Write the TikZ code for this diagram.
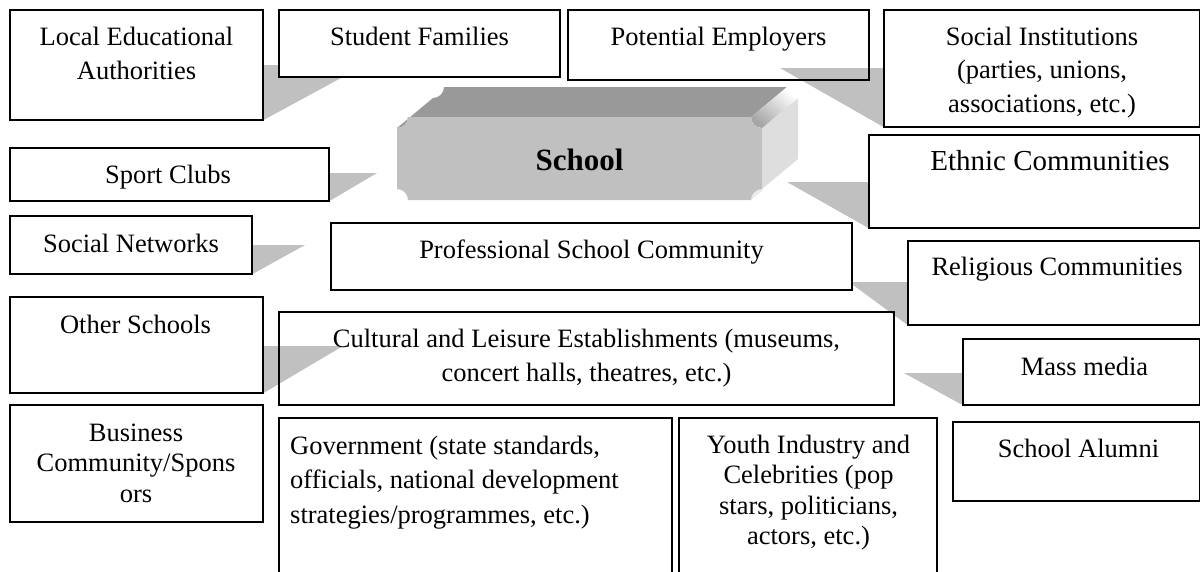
\documentclass[tikz,border=0pt]{standalone}
\usepackage{fontspec}
\setmainfont{Liberation Serif}
\definecolor{wedgegray}{HTML}{C0C0C0}
\definecolor{facegray}{HTML}{C0C0C0}
\definecolor{topgray}{HTML}{999999}
\definecolor{sidegray}{HTML}{DEDEDE}
% multi-line label whose baseline is that of its first line
\newcommand{\txtblock}[2]{\begin{tabular}[t]{@{}#1@{}}#2\end{tabular}}
\begin{document}
\begin{tikzpicture}[x=1pt,y=-1pt,
  box/.style={draw=black, line width=1.5pt, fill=white, rectangle, inner sep=0pt},
  openbox/.style={draw=black, line width=1.5pt, rectangle, inner sep=0pt},
  wedge/.style={fill=wedgegray},
  lbl/.style={inner sep=0pt, anchor=base, font=\fontsize{26.5}{34}\selectfont},
  lbltight/.style={inner sep=0pt, anchor=base, font=\fontsize{26.5}{30.5}\selectfont},
  schoolfont/.style={inner sep=0pt, anchor=base, font=\bfseries\fontsize{31}{37}\selectfont}]
\useasboundingbox (0,0) rectangle (1201,571);
\fill[white] (0,0) rectangle (1201,571);
\clip (0,0) rectangle (1201,571);

% ---------- boxes (shapes only) ----------
\path
  (136.5,65)    node[minimum width=253pt,  minimum height=110pt] (loc)   {}
  (419.5,43.5)  node[minimum width=281pt,  minimum height=67pt]  (fam)   {}
  (718.5,45)    node[minimum width=301pt,  minimum height=70pt]  (emp)   {}
  (1041.75,68.5) node[minimum width=315.5pt, minimum height=117pt] (inst) {}
  (1034.25,181.5) node[minimum width=330.5pt, minimum height=93pt] (eth) {}
  (169.5,174.5) node[minimum width=319pt,  minimum height=53pt]  (sport) {}
  (131,245)     node[minimum width=242pt,  minimum height=58pt]  (net)   {}
  (591.5,256.5) node[minimum width=521pt,  minimum height=67pt]  (prof)  {}
  (1053.75,283) node[minimum width=291.5pt, minimum height=84pt] (rel)   {}
  (136.5,345)   node[minimum width=253pt,  minimum height=96pt]  (other) {}
  (586.5,358.5) node[minimum width=615pt,  minimum height=93pt]  (cult)  {}
  (1081.25,372) node[minimum width=236.5pt, minimum height=66pt] (mass)  {}
  (136.5,463.5) node[minimum width=253pt,  minimum height=117pt] (bus)   {}
  (475.5,509)   node[minimum width=393pt,  minimum height=182pt] (gov)   {}
  (808,509)     node[minimum width=258pt,  minimum height=182pt] (youth) {}
  (1076.25,461.5) node[minimum width=246.5pt, minimum height=79pt] (alum) {};

% ---------- grey pointers toward the school ----------
\coordinate (tipLoc)   at (365,65);
\coordinate (tipInst)  at (780,68);
\coordinate (tipEth)   at (787,182);
\coordinate (tipSport) at (377,173);
\coordinate (tipNet)   at (305,245);
\coordinate (tipOther) at (343,346);
\coordinate (tipRel)   at (849,282);
\coordinate (tipMass)  at (904,373);

\fill[wedge] (tipLoc)   -- (loc.south east)   -- ([xshift=-30pt]loc.east |- tipLoc) -- cycle;
\fill[wedge] (tipSport) -- (sport.south east) -- ([xshift=-30pt]sport.east |- tipSport) -- cycle;
\fill[wedge] (tipNet)   -- (net.south east)   -- ([xshift=-30pt]net.east |- tipNet) -- cycle;
\fill[wedge] (tipOther) -- (other.south east) -- ([xshift=-30pt]other.east |- tipOther) -- cycle;
\fill[wedge] (tipInst)  -- (inst.south west)  -- ([xshift=30pt]inst.west |- tipInst) -- cycle;
\fill[wedge] (tipEth)   -- (eth.south west)   -- ([xshift=30pt]eth.west |- tipEth) -- cycle;
\fill[wedge] (tipRel)   -- (rel.south west)   -- ([xshift=30pt]rel.west |- tipRel) -- cycle;
\fill[wedge] (tipMass)  -- (mass.south west)  -- ([xshift=30pt]mass.west |- tipMass) -- cycle;

% ---------- draw the boxes ----------
\foreach \b in {loc,fam,inst,eth,sport,net,prof,rel,other,mass,bus,gov,youth,alum}
  \draw[box] (\b.south west) rectangle (\b.north east);
\foreach \b in {emp,cult}
  \draw[openbox] (\b.south west) rectangle (\b.north east);

% ---------- the School block ----------
% top face with the upper-left notch
\fill[topgray] (397,128) -- (433,98) .. controls (439.07,98) and (444,93.07) .. (444,87)
  -- (787,87) -- (751,117) -- (408,117) .. controls (408,123.07) and (403.07,128) .. (397,128) -- cycle;
% right face
\fill[sidegray] (762,128) -- (798,98) -- (798,159) -- (762,189) -- cycle;
% upper-right rounded notch
\shade[top color=white, bottom color=black!35, shading angle=-40]
  (751,117) .. controls (751,123.07) and (755.93,128) .. (762,128) -- (798,98)
  .. controls (791.93,98) and (787,93.07) .. (787,87) -- cycle;
% small highlight in the lower-right notch
\fill[black!8] (762,189) .. controls (755.93,189) and (751,193.93) .. (751,200) -- (756,196) -- (762,191) -- cycle;
% front face
\fill[facegray] (408,117) -- (751,117) .. controls (751,123.07) and (755.93,128) .. (762,128)
  -- (762,189) .. controls (755.93,189) and (751,193.93) .. (751,200)
  -- (408,200) .. controls (408,193.93) and (403.07,189) .. (397,189)
  -- (397,128) .. controls (403.07,128) and (408,123.07) .. (408,117) -- cycle;
\node[schoolfont] (school) at (579.5,170) {School};

% ---------- labels ----------
\node[lbl] (locT)   at (136.5,45)  {\txtblock{c}{Local Educational\\Authorities}};
\node[lbl] (famT)   at (419.5,45)  {Student Families};
\node[lbl] (empT)   at (718.5,45)  {Potential Employers};
\node[inner sep=0pt, anchor=base, font=\fontsize{26.5}{33.5}\selectfont] (instT) at (1042,45)
  {\txtblock{c}{Social Institutions\\(parties, unions,\\associations, etc.)}};
\node[inner sep=0pt, anchor=base, font=\fontsize{29}{34}\selectfont] (ethT) at (1050,170) {Ethnic Communities};
\node[lbl] (sportT) at (168,183)   {Sport Clubs};
\node[lbl] (netT)   at (131,252)   {Social Networks};
\node[lbl] (profT)  at (591.5,258) {Professional School Community};
\node[lbl] (relT)   at (1057,275)  {Religious Communities};
\node[lbl] (otherT) at (135.5,333) {Other Schools};
\node[lbl] (cultT)  at (586.5,347) {\txtblock{c}{Cultural and Leisure Establishments (museums,\\concert halls, theatres, etc.)}};
\node[lbl] (massT)  at (1084.5,375) {Mass media};
\node[lbltight] (busT) at (136,441) {\txtblock{c}{Business\\Community/Spons\\ors}};
\node[inner sep=0pt, anchor=base west, font=\fontsize{26.5}{34.5}\selectfont] (govT) at (290,454)
  {\txtblock{l}{Government (state standards,\\officials, national development\\strategies/programmes, etc.)}};
\node[lbltight] (youthT) at (808.5,453) {\txtblock{c}{Youth Industry and\\Celebrities (pop\\stars, politicians,\\actors, etc.)}};
\node[lbl] (alumT)  at (1078.5,457) {School Alumni};
\end{tikzpicture}
\end{document}
